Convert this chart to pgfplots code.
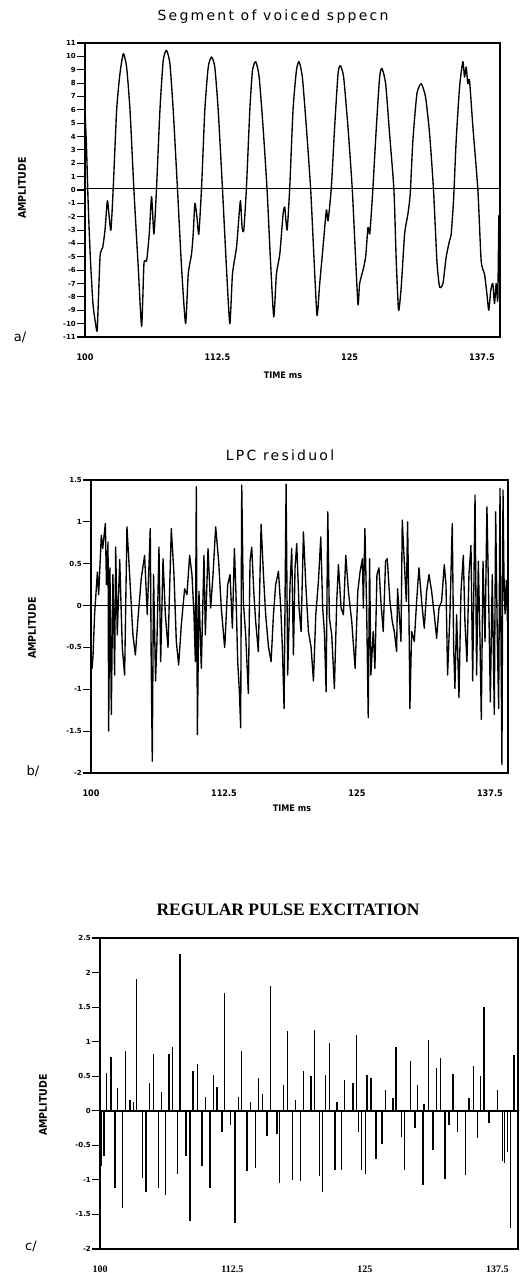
\documentclass[border=0pt]{standalone}
\usepackage{pgfplots}
\pgfplotsset{compat=1.18}
\usepackage{fontspec}
\setmainfont{DejaVu Sans}
\newfontfamily\plotfont[LetterSpace=16]{DejaVu Sans}
\newfontfamily\serifb{Liberation Serif}
\newfontfamily\condf{DejaVu Sans Condensed}
\begin{document}
\begin{tikzpicture}
\path[use as bounding box] (0pt,0pt) rectangle (519pt,1273pt);
\pgfplotsset{
  panel/.style={
    scale only axis, anchor=south west,
    xmin=100,
    axis line style={line width=1.7pt},
    tick align=outside,
    major tick length=8pt,
    ytick pos=left, xtick pos=bottom,
    ytick style={line width=1.1pt, black},
    xtick={100,112.5,125,137.5},
    xticklabels={100,112.5,125,137.5},
    xtick style={draw=none},
    yticklabel style={font=\fontsize{7}{8}\selectfont\bfseries, inner sep=1pt},
    xticklabel style={font=\condf\fontsize{9}{10}\selectfont\bfseries, yshift=-5pt},
  },
  sig/.style={black, line width=1.35pt, line join=round},
}
% ---------------- panel a ----------------
\begin{axis}[panel, at={(85pt,936pt)}, width=415pt, height=294pt,
  xmax=139.2, ymin=-11, ymax=11,
  ytick={-11,-10,...,11},
  yticklabels={-11,-10,-9,-8,-7,-6,-5,-4,-3,-2,-1,0,1,2,3,4,5,6,7,8,9,10,11}]
\addplot[black, line width=1.6pt] coordinates {(100,0.1)(139.2,0.1)};
\addplot[sig, smooth, tension=0.35] coordinates {
(100.0,6.0)(100.15,3.0)(100.3,-1.0)(100.5,-5.0)(100.75,-8.5)(101.0,-10.0)(101.16,-10.4)
(101.42,-5.0)(101.67,-4.3)(101.89,-3.0)(102.11,-0.8)(102.26,-1.8)(102.45,-3.0)(102.67,0.2)
(102.99,6.0)(103.30,8.7)(103.62,10.2)(103.93,9.2)(104.25,6.0)(104.62,0.0)(105.03,-5.8)(105.35,-10.2)
(105.57,-5.5)(105.82,-5.3)(106.07,-3.3)(106.29,-0.5)(106.51,-3.3)(106.76,0.2)(107.08,6.0)
(107.39,9.7)(107.70,10.45)(108.02,9.45)(108.33,6.0)(108.74,0.0)(109.12,-5.8)(109.50,-10.0)
(109.75,-6.3)(110.06,-4.8)(110.22,-3.3)(110.38,-1.0)(110.57,-2.0)(110.75,-3.3)(111.01,0.2)
(111.32,6.0)(111.64,9.2)(111.95,9.95)(112.26,9.2)(112.58,6.0)(112.99,0)(113.36,-5.8)(113.68,-10.0)
(113.93,-6.3)(114.31,-4.3)(114.56,-1.8)(114.69,-0.8)(114.84,-2.8)(115.0,-3.0)(115.25,0.2)
(115.57,6.0)(115.82,8.95)(116.13,9.6)(116.45,8.45)(116.82,4.7)(117.2,0)(117.52,-5.3)(117.83,-9.5)
(118.08,-6.3)(118.40,-4.8)(118.71,-1.8)(118.87,-1.3)(119.09,-3.0)(119.34,0.2)(119.65,6.0)
(119.97,8.95)(120.22,9.6)(120.53,8.45)(120.91,4.7)(121.32,0)(121.64,-5.3)(121.92,-9.4)
(122.17,-7.0)(122.48,-4.3)(122.8,-1.5)(122.96,-2.3)(123.27,0.2)(123.58,4.7)(123.9,8.7)
(124.12,9.3)(124.43,8.45)(124.84,4.7)(125.25,0)(125.57,-5.3)(125.79,-8.6)
(125.94,-7.0)(126.26,-6.0)(126.51,-5.0)(126.73,-2.8)(126.89,-3.3)(127.04,-1.8)(127.2,0.2)
(127.52,4.7)(127.83,8.45)(128.05,9.1)(128.4,7.95)(128.77,4.2)(129.18,0)(129.4,-5.3)(129.62,-9.0)
(129.87,-7.25)(130.19,-3.3)(130.5,-1.8)(130.72,-0.3)(130.97,3.7)(131.35,7.2)(131.76,7.95)
(132.17,6.95)(132.55,4.2)(132.92,0)(133.24,-5.3)(133.49,-7.25)(133.81,-7.0)
(134.12,-5.0)(134.43,-3.8)(134.59,-3.3)(134.81,-0.8)(135.06,3.7)(135.38,7.7)(135.69,9.6)
(135.85,8.45)(136.01,9.2)(136.16,7.95)(136.32,8.2)(136.64,4.7)(137.11,0)(137.42,-5.3)
(137.74,-6.3)(137.96,-7.75)(138.14,-9.0)(138.33,-7.5)(138.52,-7.0)(138.68,-8.5)(138.84,-7.0)
(138.99,-8.25)(139.09,-2.0)(139.15,-3.3)
};
\end{axis}
\node[font=\plotfont\fontsize{14}{16}\selectfont] at (273pt,1256pt) {Segment of voiced sppecn};
\node[rotate=90, font=\condf\fontsize{10.5}{12}\selectfont\bfseries] at (22pt,1085pt) {AMPLITUDE};
\node[font=\fontsize{13}{14}\selectfont] at (20pt,936pt) {a/};
\node[font=\condf\fontsize{9}{10}\selectfont\bfseries] at (283pt,898pt) {TIME ms};
% ---------------- panel b ----------------
\begin{axis}[panel, at={(91pt,500pt)}, width=417pt, height=293pt,
  xmax=139.2, ymin=-2, ymax=1.5,
  ytick={-2,-1.5,-1,-0.5,0,0.5,1,1.5},
  yticklabels={-2,-1.5,-1,-0.5,0,0.5,1,1.5}]
\addplot[black, line width=1.6pt] coordinates {(100,0)(139.2,0)};
\addplot[sig] coordinates {
(100.0,-0.55)(100.1,-0.75)(100.19,-0.6)(100.34,-0.1)(100.6,0.4)(100.72,0.13)(100.97,0.84)
(101.1,0.68)(101.35,0.98)(101.45,0.25)(101.6,0.76)(101.66,-1.5)(101.78,0.45)(101.91,-1.3)
(102.06,0.37)(102.22,-0.83)(102.32,0.7)(102.47,-0.35)(102.7,0.55)(102.94,-0.5)(103.16,-0.83)
(103.38,0.94)(103.63,0.37)(103.94,-0.35)(104.17,-0.59)(104.42,-0.15)(104.73,0.33)(105.04,0.6)
(105.29,-0.11)(105.57,0.92)(105.66,-0.67)(105.76,-1.86)(105.88,0.37)(106.07,-0.9)(106.2,-0.43)
(106.39,0.7)(106.55,-0.67)(106.77,0.56)(106.99,-0.11)(107.24,-0.5)(107.55,0.92)(107.8,0.37)
(108.02,-0.43)(108.24,-0.71)(108.49,-0.23)(108.8,0.2)(109.02,0.13)(109.27,0.6)(109.49,0.37)
(109.68,-0.11)(109.81,-0.67)(109.9,1.42)(110.0,-1.54)(110.15,0.17)(110.37,-0.75)(110.62,0.6)
(110.75,-0.35)(111.0,0.68)(111.25,-0.03)(111.47,0.37)(111.72,0.94)(112.0,0.53)(112.25,-0.03)
(112.56,-0.5)(112.6,-0.43)(112.85,0.25)(113.07,0.37)(113.29,-0.27)(113.48,0.68)(113.63,0.13)
(113.79,-0.67)(113.95,-1.03)(114.07,-1.46)(114.17,1.44)(114.32,0.05)(114.54,-0.35)(114.79,-1.05)
(114.95,0.53)(115.11,0.7)(115.3,0.17)(115.48,-0.19)(115.73,-0.55)(115.99,0.97)(116.21,0.37)
(116.42,-0.11)(116.68,-0.49)(116.93,-0.67)(117.15,-0.11)(117.36,0.25)(117.62,0.41)(117.84,-0.03)
(117.99,-0.5)(118.15,-1.23)(118.34,1.45)(118.49,-0.83)(118.71,0.25)(118.87,0.68)(119.03,-0.59)
(119.18,0.45)(119.34,0.74)(119.56,-0.03)(119.75,-0.31)(119.97,0.88)(120.19,0.25)(120.44,-0.31)
(120.69,-0.5)(120.91,-0.9)(121.13,-0.11)(121.38,0.29)(121.6,0.82)(121.78,-0.03)(121.94,-0.31)
(122.1,-1.03)(122.26,1.12)(122.41,-0.15)(122.63,-0.35)(122.88,-0.99)(123.1,0.05)(123.26,0.49)
(123.51,-0.03)(123.73,-0.11)(123.95,0.6)(124.2,0.17)(124.51,-0.19)(124.83,-0.75)(125.08,0.17)
(125.3,0.41)(125.52,0.56)(125.6,-0.03)(125.75,0.92)(125.91,-0.03)(126.06,-1.34)(126.19,0.56)
(126.31,-0.83)(126.53,-0.31)(126.69,-0.75)(126.88,0.37)(127.07,0.45)(127.25,0.05)(127.47,-0.31)
(127.69,0.53)(127.85,0.56)(128.1,0.05)(128.32,-0.19)(128.51,-0.31)(128.73,-0.55)(128.82,0.2)
(128.98,-0.11)(129.14,-0.43)(129.26,1.02)(129.45,0.53)(129.64,0.05)(129.76,1.0)(129.89,-0.11)
(129.98,-1.23)(130.14,-0.31)(130.39,-0.43)(130.61,0.05)(130.83,0.45)(131.08,0.05)(131.33,-0.27)
(131.55,0.17)(131.77,0.37)(132.02,0.17)(132.27,-0.11)(132.49,-0.39)(132.71,-0.03)(132.96,0.05)
(133.21,0.49)(133.37,0.25)(133.52,-0.83)(133.74,-0.11)(133.96,0.98)(134.09,-0.5)(134.21,-0.99)
(134.37,-0.11)(134.59,-1.1)(134.78,0.17)(135.0,0.6)(135.15,-0.19)(135.34,-0.67)(135.53,0.37)
(135.72,0.72)(135.88,-0.9)(136.1,1.32)(136.25,-0.83)(136.41,0.53)(136.57,-0.43)(136.69,-1.36)
(136.85,0.53)(137.04,-0.43)(137.22,1.18)(137.41,-0.11)(137.54,-1.15)(137.72,0.37)(137.91,-1.3)
(138.04,1.12)(138.2,-0.43)(138.32,-1.23)(138.45,1.4)(138.54,-0.43)(138.63,-1.9)(138.73,1.38)
(138.82,0.37)(138.92,-0.1)(139.05,0.3)(139.15,-0.2)
};
\end{axis}
\node[font=\plotfont\fontsize{14}{16}\selectfont] at (280pt,818pt) {LPC residuol};
\node[rotate=90, font=\condf\fontsize{10.5}{12}\selectfont\bfseries] at (32pt,645pt) {AMPLITUDE};
\node[font=\fontsize{13}{14}\selectfont] at (33pt,502pt) {b/};
\node[font=\condf\fontsize{9}{10}\selectfont\bfseries] at (292pt,465pt) {TIME ms};
% ---------------- panel c ----------------
\begin{axis}[panel, at={(100pt,24pt)}, width=418pt, height=311pt,
  xmax=139.45, ymin=-2, ymax=2.5,
  ytick={-2,-1.5,-1,-0.5,0,0.5,1,1.5,2,2.5},
  yticklabels={-2,-1.5,-1,-0.5,0,0.5,1,1.5,2,2.5},
  xticklabel style={font=\serifb\fontsize{10}{11}\selectfont\bfseries}]
\addplot[black, line width=1.7pt] coordinates {(100,0)(139.45,0)};
\addplot[ycomb, black, line width=1.4pt] coordinates {
(100.63,0.55)(101.04,0.78)(101.64,0.33)(102.43,0.87)(102.84,0.15)(103.15,0.12)(103.47,1.9)
(104.66,0.4)(105.07,0.82)(105.83,0.27)(106.52,0.82)(106.87,0.93)(107.56,2.27)(108.76,0.58)
(109.2,0.68)(109.93,0.2)(110.72,0.52)(111.03,0.35)(111.76,1.7)(113.05,0.2)(113.36,0.86)
(114.18,0.12)(114.97,0.48)(115.32,0.25)(116.07,1.8)(117.33,0.38)(117.71,1.16)(118.44,0.15)
(119.19,0.58)(119.92,0.5)(120.26,1.17)(121.27,0.52)(121.68,0.98)(122.38,0.12)(123.1,0.45)
(123.89,0.4)(124.2,1.1)(125.21,0.52)(125.59,0.47)(126.95,0.3)(127.67,0.18)(127.95,0.93)
(129.31,0.72)(129.94,0.38)(130.57,0.1)(130.98,1.03)(131.74,0.62)(132.15,0.76)(133.31,0.53)
(134.83,0.18)(135.24,0.65)(135.93,0.5)(136.24,1.5)(137.5,0.3)(139.08,0.8)
(100.16,-0.8)(100.38,-0.65)(101.42,-1.12)(102.14,-1.4)(104.03,-0.97)(104.35,-1.18)(105.52,-1.12)
(106.18,-1.22)(107.31,-0.92)(108.1,-0.65)(108.51,-1.6)(109.61,-0.8)(110.4,-1.12)(111.5,-0.3)
(112.29,-0.2)(112.73,-1.63)(113.87,-0.87)(114.65,-0.83)(115.76,-0.37)(116.7,-0.33)(116.92,-1.05)
(118.18,-1.0)(118.91,-1.02)(120.74,-0.95)(121.02,-1.18)(122.16,-0.85)(122.79,-0.85)(124.42,-0.3)
(124.68,-0.86)(125.05,-0.92)(126.06,-0.7)(126.63,-0.48)(128.43,-0.38)(128.74,-0.85)(129.72,-0.25)
(130.48,-1.07)(131.42,-0.57)(132.56,-0.98)(132.93,-0.2)(133.72,-0.3)(134.51,-0.93)(135.61,-0.4)
(136.72,-0.18)(137.98,-0.72)(138.2,-0.76)(138.45,-0.6)(138.76,-1.7)
};
\end{axis}
\node[font=\serifb\fontsize{17.5}{19}\selectfont\bfseries] at (288pt,363pt) {REGULAR PULSE EXCITATION};
\node[rotate=90, font=\condf\fontsize{10.5}{12}\selectfont\bfseries] at (43pt,168pt) {AMPLITUDE};
\node[font=\fontsize{13}{14}\selectfont] at (31pt,27pt) {c/};
\end{tikzpicture}
\end{document}
